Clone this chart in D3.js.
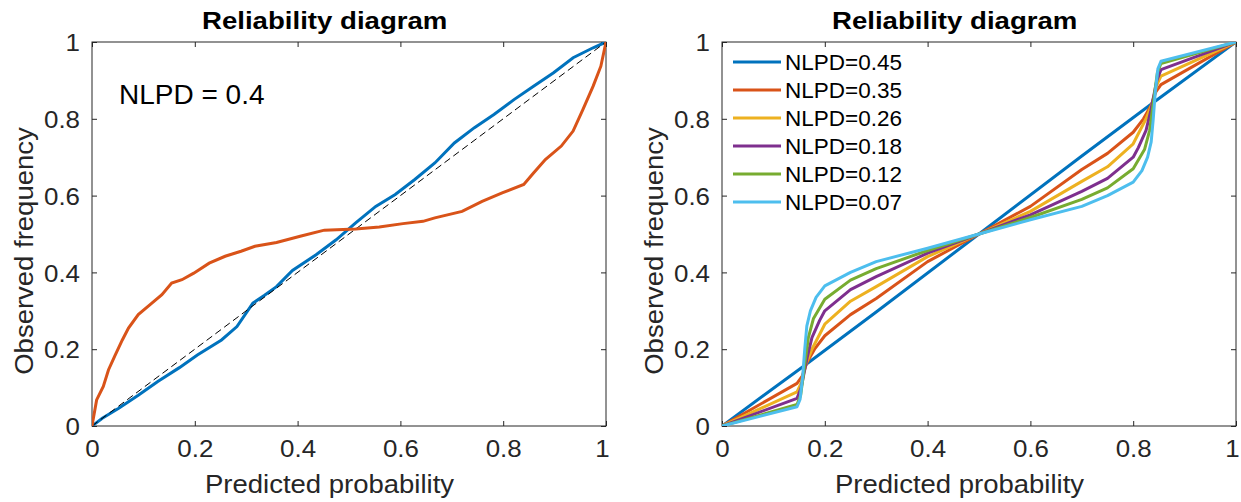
<!DOCTYPE html>
<html>
<head>
<meta charset="utf-8">
<script src="https://cdn.jsdelivr.net/npm/d3@7"></script>
<style>
  body { margin: 0; background: #fff; }
  text { font-family: "Liberation Sans", Arial, sans-serif; }
</style>
</head>
<body>
<svg id="chart" width="1241" height="502"></svg>
<script>
// left panel: two reliability curves + ideal diagonal
const leftBlueX = [0, 0.02, 0.052, 0.09, 0.128, 0.17, 0.205, 0.252, 0.282, 0.313, 0.335, 0.359, 0.39, 0.436, 0.475, 0.513, 0.552, 0.59, 0.628, 0.667, 0.705, 0.744, 0.782, 0.821, 0.859, 0.898, 0.936, 0.975, 1];
const leftBlueY = [0, 0.02, 0.046, 0.08, 0.116, 0.152, 0.185, 0.224, 0.259, 0.32, 0.34, 0.363, 0.405, 0.446, 0.485, 0.529, 0.572, 0.603, 0.642, 0.685, 0.737, 0.777, 0.811, 0.85, 0.885, 0.92, 0.959, 0.985, 1];
const leftOrangeX = [0, 0.009, 0.022, 0.032, 0.044, 0.059, 0.071, 0.09, 0.113, 0.136, 0.155, 0.175, 0.198, 0.228, 0.259, 0.29, 0.317, 0.359, 0.405, 0.452, 0.513, 0.559, 0.605, 0.644, 0.667, 0.72, 0.759, 0.798, 0.84, 0.859, 0.882, 0.913, 0.936, 0.955, 0.975, 0.99, 1];
const leftOrangeY = [0, 0.068, 0.103, 0.146, 0.181, 0.224, 0.255, 0.29, 0.316, 0.342, 0.372, 0.381, 0.398, 0.424, 0.442, 0.455, 0.468, 0.478, 0.494, 0.51, 0.513, 0.518, 0.527, 0.533, 0.542, 0.559, 0.585, 0.607, 0.629, 0.659, 0.694, 0.729, 0.768, 0.824, 0.885, 0.937, 1];
const leftLabel = "NLPD = 0.4";

// right panel: six curves
const nlpdLabels = ["NLPD=0.45", "NLPD=0.35", "NLPD=0.26", "NLPD=0.18", "NLPD=0.12", "NLPD=0.07"];
const rightColors = ["#0072BD", "#D95319", "#EDB120", "#7E2F8E", "#77AC30", "#4DBEEE"];
const rX0 = [0, 0.16, 0.3, 0.5, 0.7, 0.84, 1];
const rY0 = [0, 0.157, 0.297, 0.5, 0.703, 0.843, 1];
const rX1 = [0, 0.146, 0.156, 0.165, 0.18, 0.2, 0.25, 0.3, 0.4, 0.5, 0.6, 0.7, 0.75, 0.8, 0.82, 0.835, 0.844, 0.854, 1];
const rY1 = [0, 0.111, 0.13, 0.165, 0.2, 0.235, 0.29, 0.332, 0.428, 0.5, 0.572, 0.668, 0.71, 0.765, 0.8, 0.835, 0.87, 0.889, 1];
const rX2 = [0, 0.146, 0.155, 0.163, 0.175, 0.2, 0.25, 0.3, 0.4, 0.5, 0.6, 0.7, 0.75, 0.8, 0.825, 0.837, 0.845, 0.854, 1];
const rY2 = [0, 0.089, 0.115, 0.16, 0.2, 0.265, 0.325, 0.363, 0.441, 0.5, 0.559, 0.637, 0.675, 0.735, 0.8, 0.84, 0.885, 0.911, 1];
const rX3 = [0, 0.146, 0.154, 0.16, 0.166, 0.175, 0.19, 0.2, 0.25, 0.3, 0.4, 0.5, 0.6, 0.7, 0.75, 0.8, 0.81, 0.825, 0.834, 0.84, 0.846, 0.854, 1];
const rY3 = [0, 0.072, 0.1, 0.14, 0.18, 0.23, 0.275, 0.3, 0.355, 0.389, 0.45, 0.5, 0.55, 0.611, 0.645, 0.7, 0.725, 0.77, 0.82, 0.86, 0.9, 0.928, 1];
const rX4 = [0, 0.146, 0.153, 0.158, 0.163, 0.168, 0.178, 0.2, 0.25, 0.3, 0.4, 0.5, 0.6, 0.7, 0.75, 0.8, 0.822, 0.832, 0.837, 0.842, 0.847, 0.854, 1];
const rY4 = [0, 0.056, 0.08, 0.13, 0.18, 0.23, 0.28, 0.33, 0.38, 0.41, 0.457, 0.5, 0.543, 0.59, 0.62, 0.67, 0.72, 0.77, 0.82, 0.87, 0.92, 0.944, 1];
const rX5 = [0, 0.146, 0.152, 0.157, 0.161, 0.165, 0.172, 0.183, 0.2, 0.25, 0.3, 0.4, 0.5, 0.6, 0.7, 0.75, 0.8, 0.817, 0.828, 0.835, 0.839, 0.843, 0.848, 0.854, 1];
const rY5 = [0, 0.05, 0.07, 0.13, 0.2, 0.26, 0.3, 0.335, 0.365, 0.4, 0.428, 0.463, 0.5, 0.537, 0.572, 0.6, 0.635, 0.665, 0.7, 0.74, 0.8, 0.87, 0.93, 0.95, 1];

const ticks = [0, 0.2, 0.4, 0.6, 0.8, 1];
const titleText = "Reliability diagram";
const xLabel = "Predicted probability";
const yLabel = "Observed frequency";

const svg = d3.select("#chart");
const axisColor = "#262626";
const plotW = 514, plotH = 384;
const fmt = d3.format("~g");

function zip(xs, ys) { return xs.map((x, i) => [x, ys[i]]); }

// text that is a little wider than Liberation Sans, like the original renderer
function wideText(parent, x, y, rot, size, sx, anchor, str) {
  return parent.append("text")
    .attr("transform", `translate(${x},${y})${rot ? ` rotate(${rot})` : ""} scale(${sx},1)`)
    .attr("text-anchor", anchor)
    .style("font-size", size + "px")
    .text(str);
}

function panel(left, top, id) {
  const g = svg.append("g").attr("transform", `translate(${left},${top})`);
  const x = d3.scaleLinear().domain([0, 1]).range([0, plotW]);
  const y = d3.scaleLinear().domain([0, 1]).range([plotH, 0]);

  svg.append("clipPath").attr("id", id)
    .append("rect").attr("x", left).attr("y", top).attr("width", plotW).attr("height", plotH);

  // inward ticks on all four sides
  const tl = 5;
  const bottom = g.append("g").attr("transform", `translate(0,${plotH})`)
    .call(d3.axisBottom(x).tickValues(ticks).tickSizeInner(-tl).tickSizeOuter(0).tickFormat(fmt));
  const topA = g.append("g")
    .call(d3.axisTop(x).tickValues(ticks).tickSizeInner(-tl).tickSizeOuter(0).tickFormat(""));
  const leftA = g.append("g")
    .call(d3.axisLeft(y).tickValues(ticks).tickSizeInner(-tl).tickSizeOuter(0).tickFormat(fmt));
  const rightA = g.append("g").attr("transform", `translate(${plotW},0)`)
    .call(d3.axisRight(y).tickValues(ticks).tickSizeInner(-tl).tickSizeOuter(0).tickFormat(""));
  [bottom, topA, leftA, rightA].forEach(ag => {
    ag.select(".domain").remove();
    ag.selectAll("line").attr("stroke", axisColor);
    ag.selectAll("text").attr("fill", axisColor).style("font-size", "24px")
      .style("font-family", "'Liberation Sans', Arial, sans-serif");
  });
  // last label pulled in a little so it stays inside the page
  bottom.selectAll("text").attr("y", 0).attr("dy", null)
    .attr("transform", d => `translate(${d === 1 ? -4 : 0},31) scale(1.08,1)`);
  leftA.selectAll("text").attr("x", 0).attr("dy", "0.36em")
    .attr("transform", "translate(-12,0) scale(1.08,1)");

  g.append("rect").attr("width", plotW).attr("height", plotH)
    .attr("fill", "none").attr("stroke", axisColor).attr("stroke-width", 1);

  wideText(g, 110, -13, 0, 24, 1.15, "start", titleText).style("font-weight", "bold").attr("fill", "#000");
  wideText(g, 113, plotH + 67, 0, 25, 1.1, "start", xLabel).attr("fill", axisColor);
  wideText(g, -59, 209, -90, 25, 1.1, "middle", yLabel).attr("fill", axisColor);

  const lines = svg.append("g").attr("clip-path", `url(#${id})`)
    .append("g").attr("transform", `translate(${left},${top})`);
  const line = d3.line().x(d => x(d[0])).y(d => y(d[1]));
  return { g, lines, line, x, y };
}

// left panel
const L = panel(92, 42, "clipL");
L.lines.append("path").datum(zip(leftBlueX, leftBlueY))
  .attr("d", L.line).attr("fill", "none").attr("stroke", "#0072BD").attr("stroke-width", 3);
L.lines.append("path").datum([[0, 0], [1, 1]])
  .attr("d", L.line).attr("fill", "none").attr("stroke", "#000").attr("stroke-width", 1)
  .attr("stroke-dasharray", "7,4");
L.lines.append("path").datum(zip(leftOrangeX, leftOrangeY))
  .attr("d", L.line).attr("fill", "none").attr("stroke", "#D95319").attr("stroke-width", 3);
L.g.append("text").attr("x", 27).attr("y", 62).style("font-size", "28px").text(leftLabel);

// right panel
const R = panel(722, 42, "clipR");
const rightSeries = [zip(rX0, rY0), zip(rX1, rY1), zip(rX2, rY2), zip(rX3, rY3), zip(rX4, rY4), zip(rX5, rY5)];
rightSeries.forEach((s, i) => {
  R.lines.append("path").datum(s)
    .attr("d", R.line).attr("fill", "none").attr("stroke", rightColors[i]).attr("stroke-width", 3)
    .attr("stroke-linejoin", "round");
});

const leg = R.g.append("g");
nlpdLabels.forEach((lab, i) => {
  const cy = 20 + i * 28;
  leg.append("line").attr("x1", 11).attr("x2", 59).attr("y1", cy).attr("y2", cy)
    .attr("stroke", rightColors[i]).attr("stroke-width", 3);
  leg.append("text").attr("x", 63).attr("y", cy).attr("dy", "0.36em")
    .style("font-size", "22.5px").text(lab);
});
</script>
</body>
</html>
